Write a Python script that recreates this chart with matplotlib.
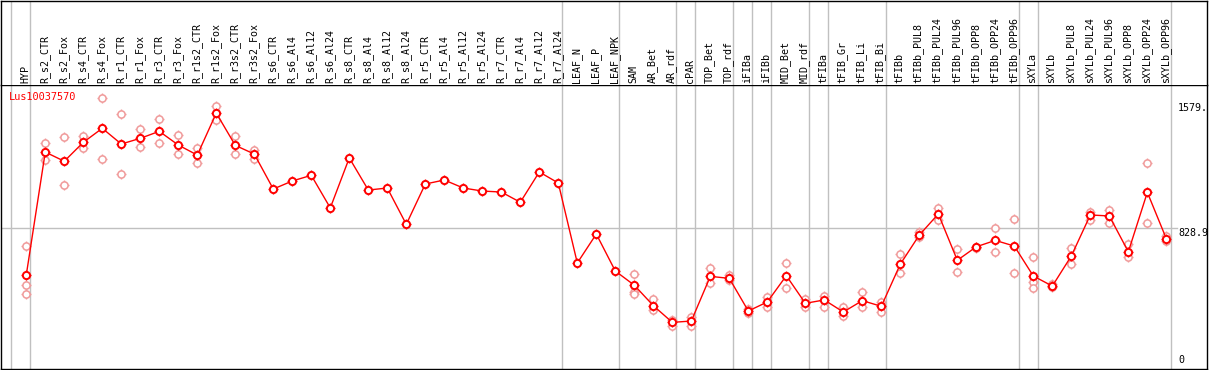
import numpy as np
import matplotlib
matplotlib.use("Agg")
import matplotlib.pyplot as plt

# categories (sample names) in plot order
samples = [
	"HYP", "R_s2_CTR", "R_s2_Fox", "R_s4_CTR", "R_s4_Fox", "R_r1_CTR", "R_r1_Fox",
	"R_r3_CTR", "R_r3_Fox", "R_r1s2_CTR", "R_r1s2_Fox", "R_r3s2_CTR", "R_r3s2_Fox",
	"R_s6_CTR", "R_s6_Al4", "R_s6_Al12", "R_s6_Al24", "R_s8_CTR", "R_s8_Al4",
	"R_s8_Al12", "R_s8_Al24", "R_r5_CTR", "R_r5_Al4", "R_r5_Al12", "R_r5_Al24",
	"R_r7_CTR", "R_r7_Al4", "R_r7_Al12", "R_r7_Al24", "LEAF_N", "LEAF_P", "LEAF_NPK",
	"SAM", "AR_Bet", "AR_rdf", "cPAR", "TOP_Bet", "TOP_rdf", "iFIBa", "iFIBb",
	"MID_Bet", "MID_rdf", "tFIBa", "tFIB_Gr", "tFIB_Li", "tFIB_Bi", "tFIBb",
	"tFIBb_PUL8", "tFIBb_PUL24", "tFIBb_PUL96", "tFIBb_OPP8", "tFIBb_OPP24",
	"tFIBb_OPP96", "sXYLa", "sXYLb", "sXYLb_PUL8", "sXYLb_PUL24", "sXYLb_PUL96",
	"sXYLb_OPP8", "sXYLb_OPP24", "sXYLb_OPP96",
]

# mean expression per sample
means = [
	548, 1283, 1228, 1341, 1425, 1331, 1365, 1407, 1325, 1265, 1516, 1323, 1271,
	1062, 1110, 1144, 949, 1248, 1056, 1068, 851, 1092, 1116, 1068, 1050,
	1044, 983, 1164, 1098, 620, 793, 572,
	487, 365, 265, 273, 540, 528, 333, 387, 544, 379, 399, 327, 395, 361, 613,
	787, 913, 636, 717, 755, 721, 542, 482, 662, 907, 901, 687, 1042, 765,
]

# individual replicates (empty where none shown)
replicates = [
	[721, 488, 435], [1335, 1234], [1371, 1084], [1379, 1305], [1604, 1240],
	[1509, 1150], [1419, 1311], [1479, 1335], [1383, 1271], [1307, 1216],
	[1558, 1474], [1377, 1271], [1295, 1241],
	[], [], [], [], [], [], [], [], [], [], [], [], [], [], [], [], [], [], [],
	[554, 447, 435], [403, 339], [279, 243], [295, 243], [590, 498], [548, 517],
	[343, 323], [415, 359], [618, 472], [407, 355], [424, 355], [359, 303],
	[445, 359], [389, 325], [674, 558],
	[807, 777], [950, 877], [702, 564], [708, 717], [827, 684], [881, 558],
	[654, 508, 469], [494, 478], [708, 612], [927, 877], [937, 861], [732, 654],
	[1216, 861], [781, 753],
]

# samples after which a group divider is drawn
group_ends = [
	"HYP", "R_r7_Al24", "LEAF_NPK", "AR_rdf", "cPAR", "TOP_rdf", "iFIBa", "iFIBb",
	"MID_rdf", "tFIBa", "tFIB_Bi", "tFIBb_OPP96", "sXYLa", "sXYLb_OPP96",
]

gene = "Lus10037570"
y_max_label = 1579.
y_mid_label = 828.9

RED = "#ff0000"
PINK = "#f09a9a"
GRID = "#c0c0c0"
MONO = "DejaVu Sans Mono"

W, H = 1209, 370
fig = plt.figure(figsize=(W / 100, H / 100), dpi=100)

left, right = 1 / W, 1207 / W
plot_top, plot_bot = (H - 85) / H, (H - 369) / H
ax = fig.add_axes([left, plot_bot, right - left, plot_top - plot_bot])
hdr = fig.add_axes([left, plot_top, right - left, (H - 0.5) / H - plot_top], sharex=ax)

x = np.arange(len(samples))
ax.set_xlim(-1.33, 62.14)
ax.set_ylim(-13.7, 1683.8)
hdr.set_ylim(0, 1)

for a in (ax, hdr):
	a.set_xticks([])
	a.set_yticks([])
	for s in a.spines.values():
		s.set_color("black")
		s.set_linewidth(1.0)
hdr.spines["bottom"].set_visible(False)

# group dividers
div_x = [-0.8] + [samples.index(n) + 0.22 for n in group_ends]
for dx in div_x:
	ax.axvline(dx, color=GRID, lw=1.0, zorder=1)
	hdr.axvline(dx, color=GRID, lw=1.0, zorder=1)

# reference line
ax.plot([-1.33, 60.56], [y_mid_label, y_mid_label], color=GRID, lw=1.0, zorder=1)

# replicates
rx = [i for i, r in enumerate(replicates) for _ in r]
ry = [v for r in replicates for v in r]
ax.plot(rx, ry, ls="none", marker="+", ms=7.5, mew=1.0, color=PINK, zorder=2)
ax.plot(rx, ry, ls="none", marker="o", ms=5.2, mew=1.1, mec=PINK, mfc="white", zorder=3)

# mean line
ax.plot(x, means, color=RED, lw=1.0, zorder=4)
ax.plot(x, means, ls="none", marker="+", ms=7.5, mew=1.0, color=RED, zorder=5)
ax.plot(x, means, ls="none", marker="o", ms=5.2, mew=1.4, mec=RED, mfc="white", zorder=6)

# sample labels
for i, name in enumerate(samples):
	hdr.text(i - 0.05, 0.02, name, rotation=90, ha="center", va="bottom",
		fontsize=7.2, family=MONO, color="black")

# gene name and scale labels
ax.text(-0.9, 1614, gene, ha="left", va="center", fontsize=7.4, family=MONO, color=RED)
ax.text(60.62, y_max_label, "%g." % y_max_label, ha="left", va="top", fontsize=7.2, family=MONO)
ax.text(60.62, y_mid_label, "%.1f" % y_mid_label, ha="left", va="top", fontsize=7.2, family=MONO)
ax.text(60.62, 10, "0", ha="left", va="bottom", fontsize=7.2, family=MONO)

fig.savefig("out.png", dpi=100)
